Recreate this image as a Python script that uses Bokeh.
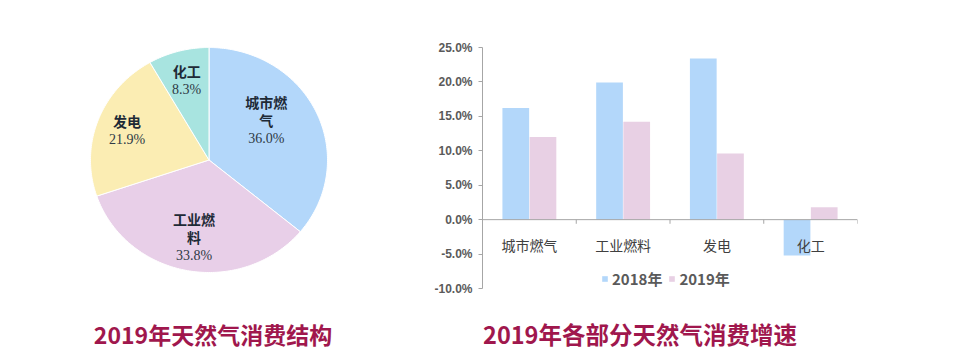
import numpy as np
from bokeh.plotting import figure
from bokeh.layouts import row, column
from bokeh.models import (ColumnDataSource, Range1d, FixedTicker, PrintfTickFormatter,
                          Legend, LegendItem, Span)
from bokeh.core.properties import value
from bokeh.embed import file_html
from bokeh.resources import INLINE

# ---------------- data ----------------
pie_names = ["城市燃气", "工业燃料", "发电", "化工"]
pie_shares = [36.0, 33.8, 21.9, 8.3]

bar_cats = ["城市燃气", "工业燃料", "发电", "化工"]
growth_2018 = [16.2, 19.9, 23.4, -5.2]
growth_2019 = [12.0, 14.2, 9.6, 1.8]
series_names = ["2018年", "2019年"]
y_ticks = [-10, -5, 0, 5, 10, 15, 20, 25]

title_left = "2019年天然气消费结构"
title_right = "2019年各部分天然气消费增速"

# ---------------- styles ----------------
CJK = "Noto Sans CJK SC"
pie_colors = ["#B3D7FA", "#E8CFE8", "#FBEDB3", "#A8E4E0"]
bar_colors = ["#B3D7FA", "#E8D0E4"]
title_color = "#A0174D"
axis_color = "#A6A6A6"

TOP_H = 300          # height of chart row
FR_TOP, FR_BOT = 47, 12   # borders above / below the plot frames
FR_H = TOP_H - FR_TOP - FR_BOT
PW = 400
BW = 555
TW = PW + BW
TH = 60

# ---------------- pie ----------------
pie = figure(width=PW, height=TOP_H, x_range=Range1d(0, PW), y_range=Range1d(0, FR_H),
             output_backend="svg", toolbar_location=None,
             min_border_left=0, min_border_right=0,
             min_border_top=FR_TOP, min_border_bottom=FR_BOT,
             x_axis_type=None, y_axis_type=None)
pie.grid.visible = False
pie.outline_line_color = None

cx, cy, rx, ry = 208.5, 128.5, 118.5, 112.5
cum = np.concatenate([[0.0], np.cumsum(pie_shares)]) / 100.0
xs, ys = [], []
for a, b in zip(cum[:-1], cum[1:]):
    t = np.linspace(a, b, max(3, int((b - a) * 360))) * 2 * np.pi
    xs.append(np.concatenate([[cx], cx + rx * np.sin(t)]))
    ys.append(np.concatenate([[cy], cy + ry * np.cos(t)]))
pie.patches(xs=xs, ys=ys, fill_color=pie_colors, line_color="white", line_width=1)

# label blocks (name lines + percentage), placed near each slice's middle angle
lab_k = [0.6, 0.7, 0.74, 0.73]
lab_dt = [-11.0, 0.0, 0.0, 0.0]   # angle tweak, degrees
LINE = 18.5
mids = (cum[:-1] + cum[1:]) / 2 * 2 * np.pi
n_x, n_y, n_t, n_o = [], [], [], []
p_x, p_y, p_t, p_o = [], [], [], []
for name, share, m, k, dt in zip(pie_names, pie_shares, mids, lab_k, lab_dt):
    mm = m + np.radians(dt)
    ax = cx + k * rx * np.sin(mm)
    ay = cy + k * ry * np.cos(mm)
    lines = [name[:3], name[3:]] if len(name) > 3 else [name]
    nl = len(lines) + 1
    for j, ln in enumerate(lines):
        n_x.append(ax); n_y.append(ay); n_t.append(ln)
        n_o.append((j - (nl - 1) / 2) * LINE)
    p_x.append(ax); p_y.append(ay); p_t.append(f"{share:.1f}%")
    p_o.append((nl - 1 - (nl - 1) / 2) * LINE)

pie.text(x=n_x, y=n_y, text=n_t, y_offset=n_o, text_align="center",
         text_baseline="middle", text_font=value(CJK), text_font_style="bold",
         text_font_size="14px", text_color="#1E2A36")
pie.text(x=p_x, y=p_y, text=p_t, y_offset=p_o, text_align="center",
         text_baseline="middle", text_font=value("Liberation Serif"),
         text_font_size="14px", text_color="#2E3A46")

# ---------------- bars ----------------
n = len(bar_cats)
centers = [i + 0.5 for i in range(n)]
off, bw = 0.145, 0.285

bar = figure(width=BW, height=TOP_H, x_range=Range1d(0, n),
             y_range=Range1d(y_ticks[0], y_ticks[-1]),
             output_backend="svg", toolbar_location=None, x_axis_type=None,
             min_border_left=82, min_border_right=98,
             min_border_top=FR_TOP, min_border_bottom=FR_BOT)
bar.grid.visible = False
bar.outline_line_color = None

yax = bar.yaxis[0]
yax.ticker = FixedTicker(ticks=y_ticks)
yax.formatter = PrintfTickFormatter(format="%.1f%%")
yax.axis_line_color = axis_color
yax.major_tick_line_color = axis_color
yax.major_tick_out = 4
yax.major_tick_in = 0
yax.minor_tick_line_color = None
yax.major_label_standoff = 6
yax.major_label_text_font = "Liberation Sans"
yax.major_label_text_font_style = "bold"
yax.major_label_text_font_size = "12px"
yax.major_label_text_color = "#5A5A5A"

bsrc = ColumnDataSource(dict(
    x18=[c - off for c in centers], x19=[c + off for c in centers],
    v18=growth_2018, v19=growth_2019,
))
r18 = bar.vbar(x="x18", top="v18", bottom=0, width=bw, source=bsrc,
               fill_color=bar_colors[0], line_color=None)
r19 = bar.vbar(x="x19", top="v19", bottom=0, width=bw, source=bsrc,
               fill_color=bar_colors[1], line_color=None)

bar.add_layout(Span(location=0, dimension="width", line_color=axis_color, line_width=1))
bounds = [i + 1 for i in range(n)]
bar.segment(x0=bounds, y0=[0] * n, x1=bounds, y1=[-0.6] * n, line_color=axis_color, line_width=1)

bar.text(x=centers, y=[0] * n, text=bar_cats, y_offset=25, text_align="center",
         text_baseline="middle", text_font=value(CJK), text_font_size="14px",
         text_color="#404040")

legend = Legend(items=[LegendItem(label=series_names[0], renderers=[r18]),
                       LegendItem(label=series_names[1], renderers=[r19])],
                orientation="horizontal", location=(119, -1),
                glyph_width=7, glyph_height=7, label_standoff=4, spacing=6,
                padding=0, margin=0, border_line_color=None, background_fill_alpha=0,
                label_text_font=CJK, label_text_font_size="15px",
                label_text_font_style="bold", label_text_color="#5A5A5A", label_height=14)
bar.add_layout(legend)

# ---------------- titles ----------------
tfig = figure(width=TW, height=TH, x_range=Range1d(0, TW), y_range=Range1d(0, TH),
              output_backend="svg", toolbar_location=None, min_border=0,
              x_axis_type=None, y_axis_type=None)
tfig.grid.visible = False
tfig.outline_line_color = None
tfig.text(x=[212.5], y=[27], text=[title_left], text_align="center", text_baseline="middle",
          text_font=value(CJK), text_font_style="bold", text_font_size="23px",
          text_color=title_color)
tfig.text(x=[639.5], y=[27], text=[title_right], text_align="center", text_baseline="middle",
          text_font=value(CJK), text_font_style="bold", text_font_size="23.5px",
          text_color=title_color)

layout = column(row(pie, bar), tfig)
open("out.html", "w").write(file_html(layout, INLINE))
